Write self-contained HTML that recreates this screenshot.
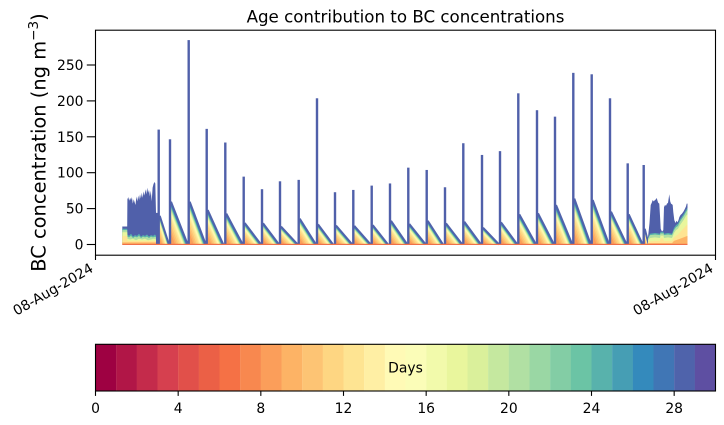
<!DOCTYPE html>
<html><head><meta charset="utf-8"><style>
html,body{margin:0;padding:0;background:#fff;}
svg{display:block;}
text{font-family:"DejaVu Sans","Liberation Sans",sans-serif;fill:#000;}
</style></head><body>
<svg width="724" height="425" viewBox="0 0 724 425" xmlns="http://www.w3.org/2000/svg">
<defs>
<g id="tri">
<polygon points="0,0 0,1 1,0" fill="#4f63ab"/>
<polygon points="0,0 0,.93 .93,0" fill="#348abc"/>
<polygon points="0,0 0,.9 .9,0" fill="#58b2ac"/>
<polygon points="0,0 0,.87 .87,0" fill="#83cda5"/>
<polygon points="0,0 0,.84 .84,0" fill="#b1e0a3"/>
<polygon points="0,0 0,.81 .81,0" fill="#daf09b"/>
<polygon points="0,0 0,.77 .77,0" fill="#f2faab"/>
<polygon points="0,0 0,.73 .73,0" fill="#fffab6"/>
<polygon points="0,0 0,.68 .68,0" fill="#ffefa4"/>
<polygon points="0,0 0,.62 .62,0" fill="#fee492"/>
<polygon points="0,0 0,.55 .55,0" fill="#fed682"/>
<polygon points="0,0 0,.45 .45,0" fill="#fdc474"/>
<polygon points="0,0 0,.35 .35,0" fill="#fdb365"/>
<polygon points="0,0 0,.25 .25,0" fill="#fb9e5a"/>
<line x1="0" y1="1" x2="1" y2="0" stroke="#4f63ab" stroke-width="2" vector-effect="non-scaling-stroke"/>
</g>
</defs>

<text x="405.5" y="22.5" font-size="16.67" text-anchor="middle">Age contribution to BC concentrations</text>

<g transform="translate(0,244.5) scale(1,-0.7182)">
<polygon fill="#5060aa" points="122.3,0 122.3,25 127.2,25 127.4,63 128.3,66 129.2,61 130.1,65 131,62 131.9,66 132.8,57 133.7,63 134.6,59 135.5,55 136.4,67 137.3,60 138.2,68 139.1,62 140,70 140.9,64 141.8,72 142.7,65 143.6,74 144.5,68 145.4,77 146.3,70 147.2,79 148.1,72 149,76 149.9,67 150.8,75 151.7,60 152.6,79 153.5,84 154.4,87 155.3,85 156,44 158,44 158,0"/>
<polygon fill="#58b2ac" points="122.3,0 122.3,22 127.2,22 127.4,14 129,12 131,15 133,11 135,13 137,12 139,15 141,11 143,13 145,12 147,14 149,11 151,13 153,12 155,14 156,12 156,0"/>
<polygon fill="#b1e0a3" points="122.3,0 122.3,20 127.2,20 127.4,11 129,10 131,12 133,9 135,11 137,10 139,12 141,9 143,11 145,10 147,11 149,9 151,11 153,10 155,11 156,10 156,0"/>
<polygon fill="#e9f69d" points="122.3,0 122.3,17 127.2,17 127.4,8 130,7 133,8 136,6 139,8 142,7 145,8 148,6 151,7 154,8 156,7 156,0"/>
<polygon fill="#fee492" points="122.3,0 122.3,12 127.2,12 127.4,5 156,5 156,0"/>
<polygon fill="#fdb365" points="122.3,0 122.3,3 156,3 156,0"/>

<use href="#tri" transform="translate(159.7,0) scale(9.3,40)"/>
<use href="#tri" transform="translate(171,0) scale(16.7,59.6)"/>
<use href="#tri" transform="translate(189.7,0) scale(16,59.6)"/>
<use href="#tri" transform="translate(207.7,0) scale(15.6,48)"/>
<use href="#tri" transform="translate(226.3,0) scale(16.4,43)"/>
<use href="#tri" transform="translate(244.7,0) scale(16.3,30)"/>
<use href="#tri" transform="translate(263,0) scale(16,29.6)"/>
<use href="#tri" transform="translate(281,0) scale(16.7,25)"/>
<use href="#tri" transform="translate(299.7,0) scale(16.3,36)"/>
<use href="#tri" transform="translate(318,0) scale(15,28)"/>
<use href="#tri" transform="translate(336,0) scale(16.3,26.5)"/>
<use href="#tri" transform="translate(354.3,0) scale(16.4,25.8)"/>
<use href="#tri" transform="translate(372.7,0) scale(15.3,27)"/>
<use href="#tri" transform="translate(391,0) scale(16.3,33)"/>
<use href="#tri" transform="translate(409.3,0) scale(16.4,28.5)"/>
<use href="#tri" transform="translate(427.7,0) scale(15.3,33)"/>
<use href="#tri" transform="translate(446,0) scale(16.3,29.5)"/>
<use href="#tri" transform="translate(464.3,0) scale(16.7,31.8)"/>
<use href="#tri" transform="translate(483,0) scale(16,23.4)"/>
<use href="#tri" transform="translate(501,0) scale(16.3,30.9)"/>
<use href="#tri" transform="translate(519.3,0) scale(16.7,42)"/>
<use href="#tri" transform="translate(538,0) scale(16,43.4)"/>
<use href="#tri" transform="translate(556,0) scale(16.3,55)"/>
<use href="#tri" transform="translate(574.3,0) scale(16.4,64)"/>
<use href="#tri" transform="translate(592.7,0) scale(16.3,62)"/>
<use href="#tri" transform="translate(611,0) scale(15.7,45.7)"/>
<use href="#tri" transform="translate(628.7,0) scale(14,42)"/>
<use href="#tri" transform="translate(644.7,0) scale(4,22)"/>

<polygon fill="#5060aa" points="648,0 648,10 649.5,30 650.7,55 651.7,58 652.7,62 653.7,60 655,62 656,63 656.7,65 657.5,61 658.3,58 659.3,57 660,40 660.7,22 662,18 663.3,20 664,52 665,55 666,54 667,57 668,58 669.3,70 670.2,60 671,57 672,56 672.7,55 673.3,45 674.3,34 675.5,30 676.5,33 677.5,31 678.5,34 679.3,38 680.5,41 682,43 683.5,46 685,50 686,53 686.7,57 687.5,57 687.5,0"/>
<polygon fill="#58b2ac" points="648,0 648,9 650,15 655,16 660,15 660.7,18 662,17 663.3,18 664,15 668,16 672,15 674,23 676,27 678,29 680,35 682,39 684,43 686,48 687.5,51 687.5,0"/>
<polygon fill="#b1e0a3" points="648,0 648,8 650,13 655,14 660,13 660.7,16 662,15 663.3,16 664,13 668,14 672,13 674,20 676,24 678,26 680,32 682,36 684,40 686,45 687.5,48 687.5,0"/>
<polygon fill="#e9f69d" points="648,0 648,6 650,9 655,10 660,9 660.7,13 662,12 663.3,13 664,9 668,10 672,9 674,16 676,20 678,22 680,27 682,31 684,35 686,40 687.5,42 687.5,0"/>
<polygon fill="#fee492" points="648,0 648,4 655,5 660,5 661,9 663,8 664,5 672,5 674,10 678,14 682,20 686,26 687.5,28 687.5,0"/>
<polygon fill="#fdb365" points="648,0 648,2 672,2 674,5 680,8 687.5,12 687.5,0"/>

<g fill="#5060aa">
<rect x="157.5" y="0" width="2.4" height="160"/>
<rect x="168.8" y="0" width="2.4" height="146.5"/>
<rect x="187.5" y="0" width="2.4" height="284.6"/>
<rect x="205.5" y="0" width="2.4" height="161"/>
<rect x="224.1" y="0" width="2.4" height="142"/>
<rect x="242.5" y="0" width="2.4" height="94.5"/>
<rect x="260.8" y="0" width="2.4" height="77"/>
<rect x="278.8" y="0" width="2.4" height="88"/>
<rect x="297.5" y="0" width="2.4" height="90"/>
<rect x="315.8" y="0" width="2.4" height="203.6"/>
<rect x="333.8" y="0" width="2.4" height="72.8"/>
<rect x="352.1" y="0" width="2.4" height="76"/>
<rect x="370.5" y="0" width="2.4" height="82"/>
<rect x="388.8" y="0" width="2.4" height="85"/>
<rect x="407.1" y="0" width="2.4" height="107"/>
<rect x="425.5" y="0" width="2.4" height="103.8"/>
<rect x="443.8" y="0" width="2.4" height="79.7"/>
<rect x="462.1" y="0" width="2.4" height="141"/>
<rect x="480.8" y="0" width="2.4" height="124.7"/>
<rect x="498.8" y="0" width="2.4" height="130"/>
<rect x="517.1" y="0" width="2.4" height="210.5"/>
<rect x="535.8" y="0" width="2.4" height="187"/>
<rect x="553.8" y="0" width="2.4" height="178"/>
<rect x="572.1" y="0" width="2.4" height="239"/>
<rect x="590.5" y="0" width="2.4" height="237"/>
<rect x="608.8" y="0" width="2.4" height="203.6"/>
<rect x="626.5" y="0" width="2.4" height="113"/>
<rect x="642.5" y="0" width="2.4" height="110.7"/>
</g>
</g>
<rect x="122.3" y="243.8" width="565.2" height="1.2" fill="#f07048"/>

<rect x="95.5" y="30.2" width="620" height="225" fill="none" stroke="#000" stroke-width="1.1"/>
<g stroke="#000" stroke-width="1.1">
<line x1="86.8" y1="244.5" x2="95.5" y2="244.5"/>
<line x1="86.8" y1="208.6" x2="95.5" y2="208.6"/>
<line x1="86.8" y1="172.7" x2="95.5" y2="172.7"/>
<line x1="86.8" y1="136.8" x2="95.5" y2="136.8"/>
<line x1="86.8" y1="100.9" x2="95.5" y2="100.9"/>
<line x1="86.8" y1="65" x2="95.5" y2="65"/>
<line x1="95.5" y1="255" x2="95.5" y2="260"/>
<line x1="715.5" y1="255" x2="715.5" y2="260"/>
</g>
<g font-size="13.89" text-anchor="end">
<text x="83.5" y="249.5">0</text>
<text x="83.5" y="213.6">50</text>
<text x="83.5" y="177.7">100</text>
<text x="83.5" y="141.8">150</text>
<text x="83.5" y="105.9">200</text>
<text x="83.5" y="70">250</text>
<text transform="translate(94.2,271) rotate(-30)">08-Aug-2024</text>
<text transform="translate(714.2,271) rotate(-30)">08-Aug-2024</text>
</g>
<text transform="translate(45.5,142.5) rotate(-90)" font-size="19.44" text-anchor="middle">BC concentration (ng m<tspan dy="-7.5" font-size="13.6">−3</tspan><tspan dy="7.5">)</tspan></text>

<g>
<rect x="95.5" y="344.3" width="20.8" height="46.7" fill="#9e0142"/>
<rect x="116.17" y="344.3" width="20.8" height="46.7" fill="#b11647"/>
<rect x="136.83" y="344.3" width="20.8" height="46.7" fill="#c42b4b"/>
<rect x="157.5" y="344.3" width="20.8" height="46.7" fill="#d6404f"/>
<rect x="178.17" y="344.3" width="20.8" height="46.7" fill="#e1504a"/>
<rect x="198.83" y="344.3" width="20.8" height="46.7" fill="#eb6046"/>
<rect x="219.5" y="344.3" width="20.8" height="46.7" fill="#f57145"/>
<rect x="240.17" y="344.3" width="20.8" height="46.7" fill="#f8884f"/>
<rect x="260.83" y="344.3" width="20.8" height="46.7" fill="#fb9e5a"/>
<rect x="281.5" y="344.3" width="20.8" height="46.7" fill="#fdb365"/>
<rect x="302.17" y="344.3" width="20.8" height="46.7" fill="#fdc474"/>
<rect x="322.83" y="344.3" width="20.8" height="46.7" fill="#fed682"/>
<rect x="343.5" y="344.3" width="20.8" height="46.7" fill="#fee492"/>
<rect x="364.17" y="344.3" width="20.8" height="46.7" fill="#ffefa4"/>
<rect x="384.83" y="344.3" width="20.8" height="46.7" fill="#fffab6"/>
<rect x="405.5" y="344.3" width="20.8" height="46.7" fill="#fbfdb8"/>
<rect x="426.17" y="344.3" width="20.8" height="46.7" fill="#f2faab"/>
<rect x="446.83" y="344.3" width="20.8" height="46.7" fill="#e9f69d"/>
<rect x="467.5" y="344.3" width="20.8" height="46.7" fill="#daf09b"/>
<rect x="488.17" y="344.3" width="20.8" height="46.7" fill="#c5e89f"/>
<rect x="508.83" y="344.3" width="20.8" height="46.7" fill="#b1e0a3"/>
<rect x="529.5" y="344.3" width="20.8" height="46.7" fill="#9ad7a4"/>
<rect x="550.17" y="344.3" width="20.8" height="46.7" fill="#83cda5"/>
<rect x="570.83" y="344.3" width="20.8" height="46.7" fill="#6bc4a5"/>
<rect x="591.5" y="344.3" width="20.8" height="46.7" fill="#58b2ac"/>
<rect x="612.17" y="344.3" width="20.8" height="46.7" fill="#469eb4"/>
<rect x="632.83" y="344.3" width="20.8" height="46.7" fill="#348abc"/>
<rect x="653.5" y="344.3" width="20.8" height="46.7" fill="#4076b5"/>
<rect x="674.17" y="344.3" width="20.8" height="46.7" fill="#4f63ab"/>
<rect x="694.83" y="344.3" width="20.67" height="46.7" fill="#5e4fa2"/>
</g>
<rect x="95.5" y="344.3" width="620" height="46.7" fill="none" stroke="#000" stroke-width="1.1"/>
<text x="405.5" y="372.5" font-size="13.89" text-anchor="middle">Days</text>
<g stroke="#000" stroke-width="1.1">
<line x1="95.5" y1="391" x2="95.5" y2="395.9"/>
<line x1="178.17" y1="391" x2="178.17" y2="395.9"/>
<line x1="260.83" y1="391" x2="260.83" y2="395.9"/>
<line x1="343.5" y1="391" x2="343.5" y2="395.9"/>
<line x1="426.17" y1="391" x2="426.17" y2="395.9"/>
<line x1="508.83" y1="391" x2="508.83" y2="395.9"/>
<line x1="591.5" y1="391" x2="591.5" y2="395.9"/>
<line x1="674.17" y1="391" x2="674.17" y2="395.9"/>
</g>
<g font-size="13.89" text-anchor="middle">
<text x="95.5" y="413">0</text>
<text x="178.17" y="413">4</text>
<text x="260.83" y="413">8</text>
<text x="343.5" y="413">12</text>
<text x="426.17" y="413">16</text>
<text x="508.83" y="413">20</text>
<text x="591.5" y="413">24</text>
<text x="674.17" y="413">28</text>
</g>
</svg>
</body></html>
